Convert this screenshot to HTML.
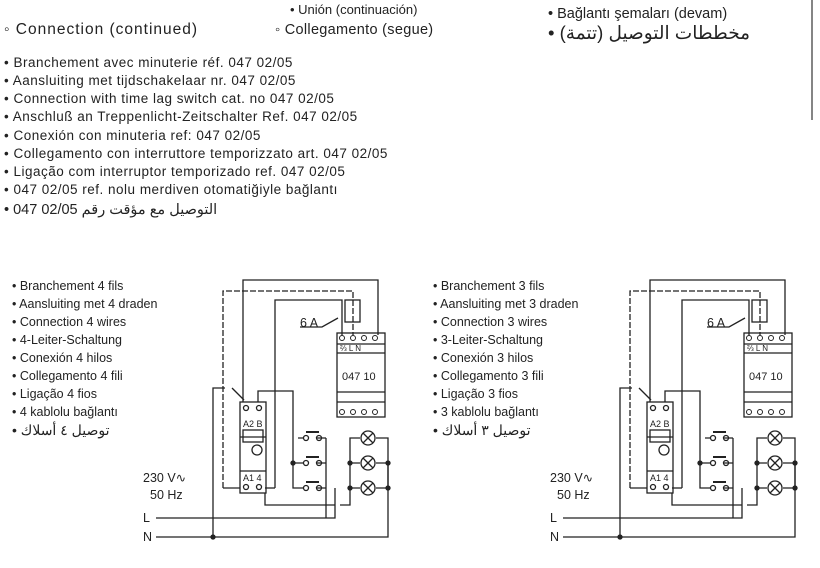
<!DOCTYPE html>
<html><head><meta charset="utf-8"><style>
html,body{margin:0;padding:0;background:#fff}
svg{display:block}
text{font-family:"Liberation Sans","Noto Sans CJK SC",sans-serif;fill:#222}
</style></head><body>
<svg width="820" height="568" viewBox="0 0 820 568" xmlns="http://www.w3.org/2000/svg">
<rect width="820" height="568" fill="#fff"/>
<line x1="812" y1="0" x2="812" y2="120" stroke="#333" stroke-width="1.2"/>
<text x="290" y="14" font-size="13" fill="#666">• Unión (continuación)</text>
<text x="4" y="34" font-size="15.5" letter-spacing="1">◦ Connection (continued)</text>
<text x="275" y="34" font-size="14.5" letter-spacing="0.3">◦ Collegamento (segue)</text>
<text x="548" y="18" font-size="14.5">• Bağlantı şemaları (devam)</text>
<text x="548" y="39" font-size="18.5">• (تتمة) مخططات التوصيل</text>
<g font-size="13.5" letter-spacing="0.5">
<text x="4" y="67">• Branchement avec minuterie réf. 047 02/05</text>
<text x="4" y="85">• Aansluiting met tijdschakelaar nr. 047 02/05</text>
<text x="4" y="103">• Connection with time lag switch cat. no 047 02/05</text>
<text x="4" y="121">• Anschluß an Treppenlicht-Zeitschalter Ref. 047 02/05</text>
<text x="4" y="140">• Conexión con minuteria ref: 047 02/05</text>
<text x="4" y="158">• Collegamento con interruttore temporizzato art. 047 02/05</text>
<text x="4" y="176">• Ligação com interruptor temporizado ref. 047 02/05</text>
<text x="4" y="194">• 047 02/05 ref. nolu merdiven otomatiğiyle bağlantı</text>
<text x="4" y="214" font-size="14.5">• 047 02/05 التوصيل مع مؤقت رقم</text>
</g>
<g font-size="12.5">
<text x="12" y="290">• Branchement 4 fils</text>
<text x="12" y="308">• Aansluiting met 4 draden</text>
<text x="12" y="326">• Connection 4 wires</text>
<text x="12" y="344">• 4-Leiter-Schaltung</text>
<text x="12" y="362">• Conexión 4 hilos</text>
<text x="12" y="380">• Collegamento 4 fili</text>
<text x="12" y="398">• Ligação 4 fios</text>
<text x="12" y="416">• 4 kablolu bağlantı</text>
<text x="12" y="435" font-size="14">• توصيل ٤ أسلاك</text>
<text x="433" y="290">• Branchement 3 fils</text>
<text x="433" y="308">• Aansluiting met 3 draden</text>
<text x="433" y="326">• Connection 3 wires</text>
<text x="433" y="344">• 3-Leiter-Schaltung</text>
<text x="433" y="362">• Conexión 3 hilos</text>
<text x="433" y="380">• Collegamento 3 fili</text>
<text x="433" y="398">• Ligação 3 fios</text>
<text x="433" y="416">• 3 kablolu bağlantı</text>
<text x="433" y="435" font-size="14">• توصيل ٣ أسلاك</text>
</g>
<defs>
<g id="d" fill="none" stroke="#222" stroke-width="1.3">
<text x="143" y="482" font-size="12.5" stroke="none">230 V∿</text>
<text x="150" y="499" font-size="12.5" stroke="none">50 Hz</text>
<text x="143" y="522" font-size="12.5" stroke="none">L</text>
<text x="143" y="541" font-size="12.5" stroke="none">N</text>
<path d="M156 518H335V488"/>
<path d="M156 537H388V463"/>
<path d="M213 537V388H225"/>
<path d="M243 402V280H378V335"/>
<path d="M223 488V291H353V335" stroke-dasharray="6,2"/>
<path d="M275 488V300H342V335"/>
<path d="M265 488H275"/>
<path d="M223 488H240"/>
<path d="M232 388L244 400"/>
<path d="M258 402V391H290M290 391H293V438"/>
<path d="M265 493V505H335"/>
<path d="M340 505H350V438H360M350 463H360M350 488H360M376 438H388V488M376 463H388M376 488H388"/>
<rect x="345" y="300" width="15" height="22"/>
<path d="M300 327H322L338 318"/>
<text x="300" y="327" font-size="12.5" stroke="none">6 A</text>
<rect x="337" y="333" width="48" height="84"/>
<path d="M337 353H385M337 344H385M337 392H385M337 402H385"/>
<text x="340" y="351" font-size="8" stroke="none">⅔ L      N</text>
<text x="342" y="380" font-size="11" stroke="none">047 10</text>
<g stroke-width="1"><circle cx="342" cy="338" r="2.5"/><circle cx="353" cy="338" r="2.5"/><circle cx="364" cy="338" r="2.5"/><circle cx="375" cy="338" r="2.5"/>
<circle cx="342" cy="412" r="2.5"/><circle cx="353" cy="412" r="2.5"/><circle cx="364" cy="412" r="2.5"/><circle cx="375" cy="412" r="2.5"/></g>
<rect x="240" y="402" width="26" height="91"/>
<path d="M240 437H266M240 471H266"/>
<rect x="243" y="430" width="20" height="12"/>
<circle cx="257" cy="450" r="5"/>
<text x="243" y="427" font-size="9" stroke="none">A2 B</text>
<text x="243" y="481" font-size="9" stroke="none">A1 4</text>
<circle cx="246" cy="408" r="2.5"/><circle cx="259" cy="408" r="2.5"/>
<circle cx="246" cy="487" r="2.5"/><circle cx="259" cy="487" r="2.5"/>
<path d="M293 438V488H298M293 463H298"/>
<path d="M298 438H303M316 438H326M298 463H303M316 463H326M298 488H303M316 488H326"/>
<circle cx="306" cy="438" r="2.5"/><circle cx="319" cy="438" r="2.5"/>
<circle cx="306" cy="463" r="2.5"/><circle cx="319" cy="463" r="2.5"/>
<circle cx="306" cy="488" r="2.5"/><circle cx="319" cy="488" r="2.5"/>
<path d="M306 432H319M306 457H319M306 482H319" stroke-width="2"/>
<path d="M326 438V518"/>
<g><circle cx="368" cy="438" r="7"/><path d="M363 433L373 443M373 433L363 443"/>
<circle cx="368" cy="463" r="7"/><path d="M363 458L373 468M373 458L363 468"/>
<circle cx="368" cy="488" r="7"/><path d="M363 483L373 493M373 483L363 493"/></g>
<g fill="#222"><circle cx="350" cy="463" r="2"/><circle cx="388" cy="463" r="2"/><circle cx="350" cy="488" r="2"/><circle cx="388" cy="488" r="2"/><circle cx="293" cy="463" r="2"/><circle cx="213" cy="537" r="2"/></g>
</g>
</defs>
<use href="#d"/>
<use href="#d" x="407"/>
</svg>
</body></html>
